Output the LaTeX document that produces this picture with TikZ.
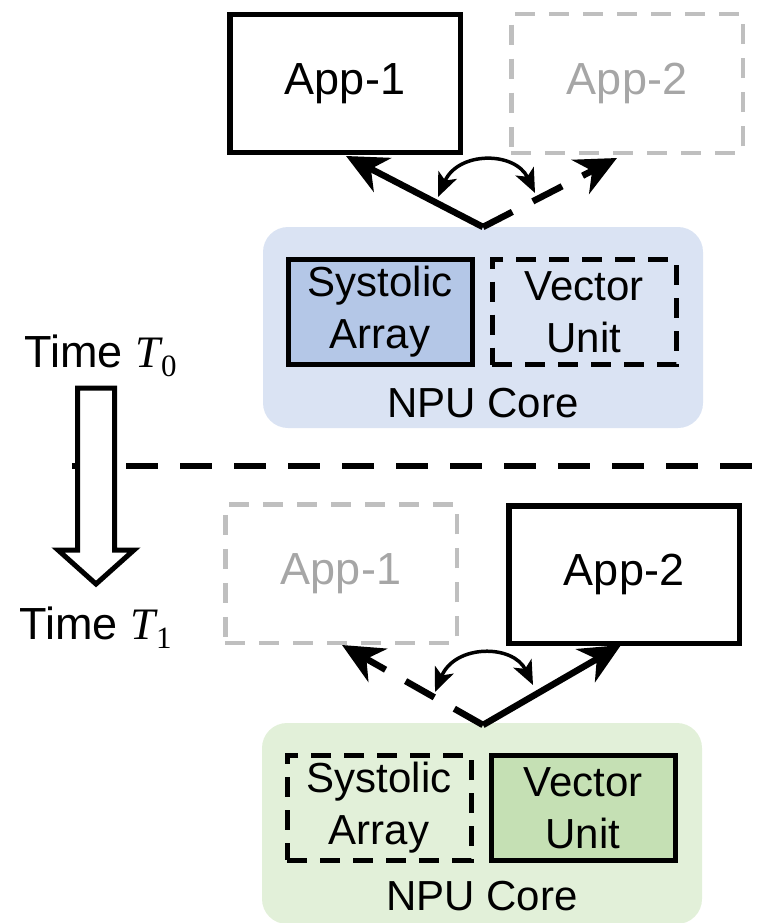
\documentclass[tikz,border=0pt]{standalone}
\usepackage{fontspec}
\setmainfont{Liberation Sans}
\newfontfamily\serifvar{Liberation Serif}
\usetikzlibrary{arrows.meta}

\definecolor{coreblue}{HTML}{DAE3F3}
\definecolor{unitblue}{HTML}{B4C7E7}
\definecolor{coregreen}{HTML}{E2F0D9}
\definecolor{unitgreen}{HTML}{C5E0B4}
\definecolor{idleline}{HTML}{BFBFBF}
\definecolor{idletext}{HTML}{A6A6A6}

% italic variable with a lowered index, e.g. T_0
\newcommand{\timevar}[1]{{\serifvar\itshape T}\kern1pt\raisebox{-9pt}{\serifvar\fontsize{31}{31}\selectfont #1}}

\tikzset{
  bigtext/.style={font=\fontsize{45}{52}\selectfont},
  unittext/.style={font=\fontsize{42}{52}\selectfont},
  appbox/.style={draw, line width=5.5pt, minimum width=230.5pt, minimum height=137.5pt,
    inner sep=0pt, bigtext},
  appidle/.style={appbox, line width=4.5pt, minimum width=231.5pt, minimum height=138.5pt,
    draw=idleline, text=idletext, dash pattern=on 20pt off 14pt},
  core/.style={rounded corners=25pt, minimum width=440pt, minimum height=201pt, inner sep=0pt},
  unitbox/.style={draw, line width=5pt, minimum width=184pt, minimum height=105pt,
    inner sep=0pt, align=center, unittext},
  unitidle/.style={unitbox, dash pattern=on 20pt off 13pt},
  corelabel/.style={anchor=base, inner sep=0pt, unittext},
  route/.style={line width=6.5pt, -{Stealth[length=41pt, width=38pt, inset=13pt]}},
  routeidle/.style={route, dash pattern=on 33pt off 23pt},
  swaparrow/.style={line width=3.5pt,
    {Stealth[length=24pt, width=20pt, inset=6pt]}-{Stealth[length=24pt, width=20pt, inset=6pt]}},
  timelabel/.style={anchor=base west, inner sep=0pt, bigtext},
  divider/.style={line width=6.5pt, dash pattern=on 32pt off 22pt},
  timearrow/.style={draw, line width=5pt, fill=white, miter limit=10},
}

\begin{document}
\begin{tikzpicture}[x=1pt, y=-1pt]
\useasboundingbox (0,0) rectangle (765,923);

% ---------- state at time T0 ----------
\node[core, fill=coreblue] (coreA) at (483,327.5) {};
\node[corelabel] (coreAlbl) at (483,417) {NPU Core};
\node[unitbox, fill=unitblue] (saA) at (380,312) {Systolic\\Array};
\node[unitidle] (vuA) at (584,312) {Vector\\Unit};

\node[appbox] (app1A) at (345,83.5) {App-1};
\node[appidle] (app2A) at (627,83.5) {App-2};

\coordinate (jA) at (483,227);
\coordinate (tipA1) at (346,156);
\coordinate (tipA2) at (617,158);
\draw[route] (jA) -- (tipA1);
\draw[routeidle] (jA) -- (tipA2);

\coordinate (swA1) at (438,197);
\coordinate (swA2) at (535,193);
\draw[swaparrow] (swA1) .. controls (458,151) and (515,151) .. (swA2);

% ---------- time axis ----------
\coordinate (divL) at (72,466);
\coordinate (divR) at (765,466);
\draw[divider] (divL) -- (divR);

\path[timearrow] (77.5,388) -- (114.5,388) -- (114.5,550) -- (134,550) -- (96,584)
  -- (58,550) -- (77.5,550) -- cycle;

\node[timelabel] (t0) at (24,367) {Time \timevar{0}};
\node[timelabel] (t1) at (19,639) {Time \timevar{1}};

% ---------- state at time T1 ----------
\node[core, fill=coregreen] (coreB) at (482,823.5) {};
\node[corelabel] (coreBlbl) at (482,910) {NPU Core};
\node[unitidle] (saB) at (379,807.5) {Systolic\\Array};
\node[unitbox, fill=unitgreen] (vuB) at (583,808) {Vector\\Unit};

\node[appidle] (app1B) at (341,573.5) {App-1};
\node[appbox] (app2B) at (624,574.5) {App-2};

\coordinate (jB) at (483,725);
\coordinate (tipB1) at (342,645);
\coordinate (tipB2) at (621,645);
\draw[routeidle] (jB) -- (tipB1);
\draw[route] (jB) -- (tipB2);

\coordinate (swB1) at (435,692);
\coordinate (swB2) at (533,685);
\draw[swaparrow] (swB1) .. controls (455,644) and (513,644) .. (swB2);
\end{tikzpicture}
\end{document}
